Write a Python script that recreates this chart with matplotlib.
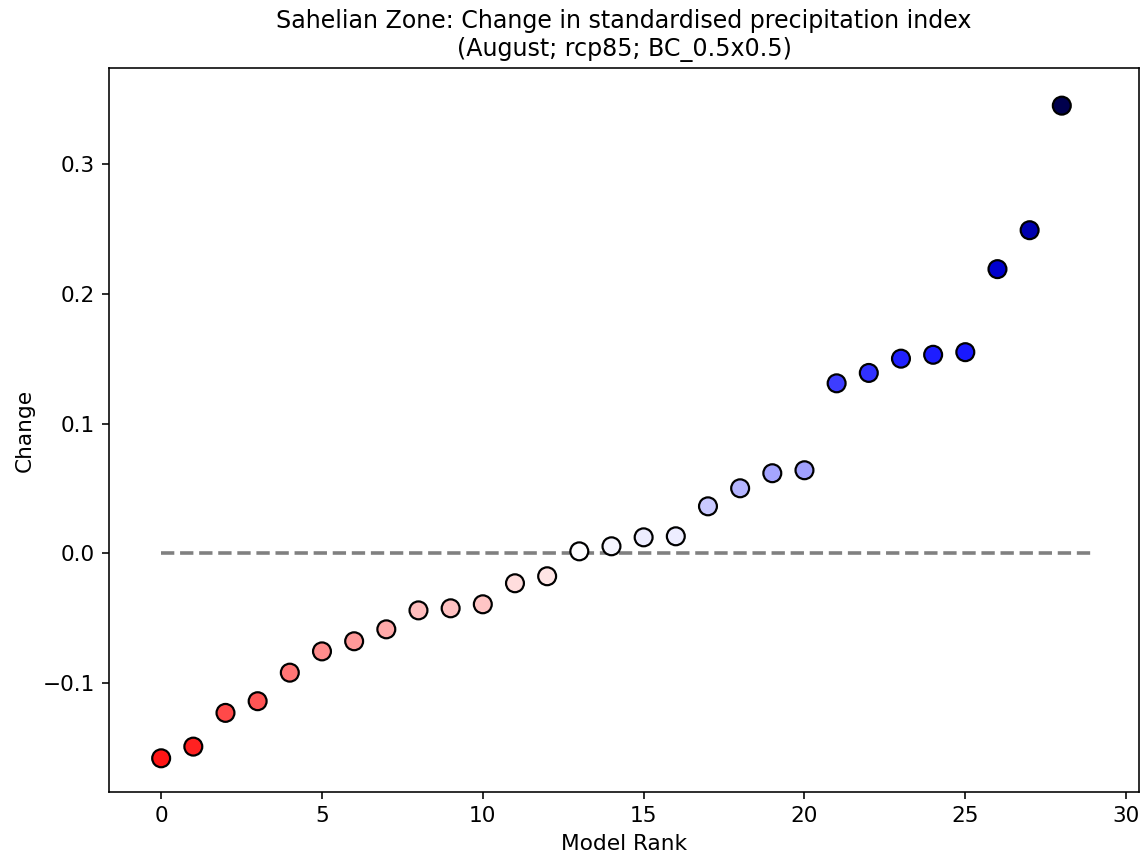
import matplotlib
matplotlib.use("Agg")
import matplotlib.pyplot as plt
import numpy as np

ranks = list(range(29))
change = [
    -0.158, -0.149, -0.123, -0.114, -0.092, -0.0756, -0.0678, -0.0586,
    -0.044, -0.0424, -0.0393, -0.0231, -0.0177, 0.0015, 0.0054, 0.0123,
    0.0131, 0.0362, 0.0501, 0.0617, 0.064, 0.131, 0.139, 0.150, 0.153,
    0.155, 0.219, 0.249, 0.345,
]

plt.rcParams["font.size"] = 10.8

fig = plt.figure(figsize=(1143 / 144, 861 / 144), dpi=144)
ax = fig.add_axes([0.0954, 0.0801, 0.9011, 0.8409])

vmax = max(abs(v) for v in change)
ax.hlines(0, 0, 28.9, colors="grey", linestyles="--", linewidth=1.8, zorder=1)
ax.scatter(ranks, change, c=change, cmap="seismic_r", vmin=-vmax, vmax=vmax,
           s=80, edgecolors="black", linewidths=1.1, zorder=3)

ax.set_xlim(-1.62, 30.4)
ax.set_ylim(-0.184, 0.374)
ax.set_xticks([0, 5, 10, 15, 20, 25, 30])
ax.set_yticks([-0.1, 0.0, 0.1, 0.2, 0.3])
ax.set_yticklabels(["\u22120.1", "0.0", "0.1", "0.2", "0.3"])
ax.set_xlabel("Model Rank")
ax.set_ylabel("Change")
ax.set_title("Sahelian Zone: Change in standardised precipitation index\n"
             "(August; rcp85; BC_0.5x0.5)", fontsize=11.9)

fig.savefig("out.png", dpi=144)
